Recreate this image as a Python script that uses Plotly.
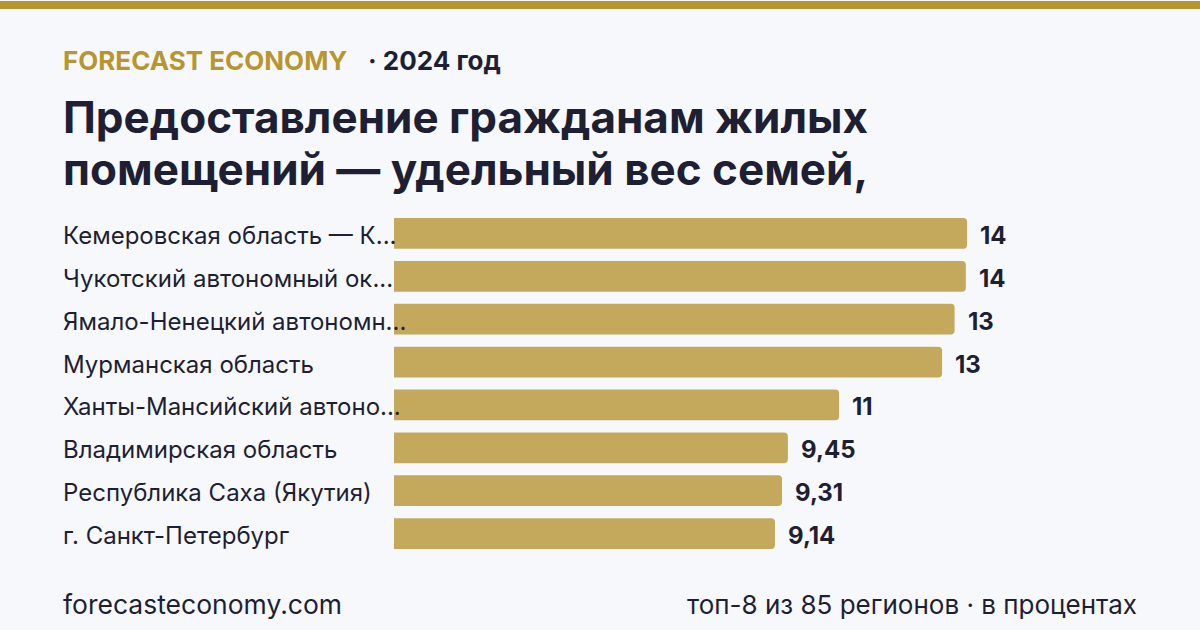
import plotly.graph_objects as go

# ---- data ----
regions = [
    "Кемеровская область — К...",
    "Чукотский автономный ок...",
    "Ямало-Ненецкий автономн...",
    "Мурманская область",
    "Ханты-Мансийский автоно...",
    "Владимирская область",
    "Республика Саха (Якутия)",
    "г. Санкт-Петербург",
]
values = [13.75, 13.72, 13.45, 13.15, 10.68, 9.45, 9.31, 9.14]
value_labels = ["14", "14", "13", "13", "11", "9,45", "9,31", "9,14"]

brand = "FORECAST ECONOMY"
period = "· 2024 год"
title_lines = ["Предоставление гражданам жилых", "помещений — удельный вес семей,"]
footer_left = "forecasteconomy.com"
footer_right = "топ-8 из 85 регионов · в процентах"

# ---- style ----
BG = "#f7f8fc"
GOLD = "#b8962e"
BAR = "#c4a85c"
DARK = "#1e1f33"
FONT = "Inter"

W, H = 1200, 630
ML, MR, MT, MB = 394, 60, 211.5, 74.5
plot_w = W - ML - MR
px_per_unit = 41.68

fig = go.Figure()
fig.add_trace(go.Bar(
    x=values, y=regions, orientation="h",
    marker=dict(color=BAR, line=dict(width=0), cornerradius=4),
    hoverinfo="skip",
))

def px(xp):
    return (xp - ML) / plot_w

def py(yp):
    return (H - MB - yp) / (H - MT - MB)

annotations = []
for r, v, lab in zip(regions, values, value_labels):
    annotations.append(dict(
        x=v, y=r, xref="x", yref="y", text=lab, showarrow=False,
        xanchor="left", yanchor="middle", xshift=11, yshift=-2,
        font=dict(family=FONT, size=24, color=DARK, weight=700),
    ))
for r in regions:
    annotations.append(dict(
        x=px(61), y=r, xref="paper", yref="y", text=r, showarrow=False,
        xanchor="left", yanchor="middle", yshift=-2,
        font=dict(family=FONT, size=24, color=DARK),
    ))

annotations += [
    dict(x=px(61), y=py(60), xref="paper", yref="paper", text=brand, showarrow=False,
         xanchor="left", yanchor="middle", font=dict(family=FONT, size=26, color=GOLD, weight=700)),
    dict(x=px(366), y=py(60), xref="paper", yref="paper", text=period, showarrow=False,
         xanchor="left", yanchor="middle", font=dict(family=FONT, size=26, color=DARK, weight=700)),
    dict(x=px(61), y=py(116), xref="paper", yref="paper", text=title_lines[0], showarrow=False,
         xanchor="left", yanchor="middle", font=dict(family=FONT, size=44, color=DARK, weight=700)),
    dict(x=px(61), y=py(168), xref="paper", yref="paper", text=title_lines[1], showarrow=False,
         xanchor="left", yanchor="middle", font=dict(family=FONT, size=44, color=DARK, weight=700)),
    dict(x=px(61), y=py(605), xref="paper", yref="paper", text=footer_left, showarrow=False,
         xanchor="left", yanchor="middle", font=dict(family=FONT, size=26.5, color=DARK)),
    dict(x=px(1139), y=py(605), xref="paper", yref="paper", text=footer_right, showarrow=False,
         xanchor="right", yanchor="middle", font=dict(family=FONT, size=26, color=DARK)),
]

fig.update_layout(
    width=W, height=H,
    margin=dict(l=ML, r=MR, t=MT, b=MB, pad=0),
    paper_bgcolor=BG, plot_bgcolor=BG,
    showlegend=False,
    bargap=0.28,
    xaxis=dict(range=[0, plot_w / px_per_unit], visible=False, fixedrange=True),
    yaxis=dict(autorange="reversed", visible=False, fixedrange=True),
    annotations=annotations,
    shapes=[dict(type="rect", xref="paper", yref="paper",
                 x0=px(0), x1=px(W), y0=py(0), y1=py(8),
                 fillcolor=GOLD, line=dict(width=0), layer="above")],
)

fig.write_html("out.html", config={"displayModeBar": False})
